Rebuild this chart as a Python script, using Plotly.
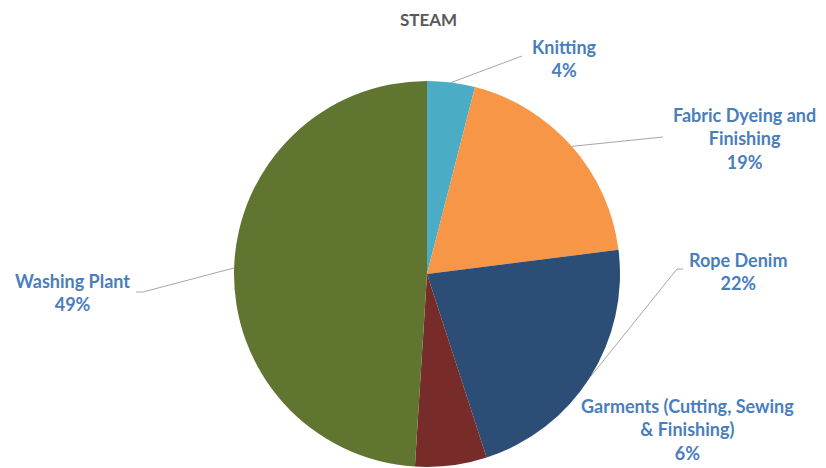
import math
import plotly.graph_objects as go

# ---- data ----
categories = ["Knitting", "Fabric Dyeing and Finishing", "Rope Denim",
              "Garments (Cutting, Sewing & Finishing)", "Washing Plant"]
shares = [4, 19, 22, 6, 49]
label_text = ["Knitting<br>4%", "Fabric Dyeing and<br>Finishing<br>19%", "Rope Denim<br>22%",
              "Garments (Cutting, Sewing<br>& Finishing)<br>6%", "Washing Plant<br>49%"]
colors = ["#4BACC6", "#F79646", "#2C4D75", "#772C2A", "#5F7530"]

W, H = 826, 468
CX, CY, R = 427, 274, 193  # pie center / radius in px (layout)

# label placement (px) and leader-line elbow (px), layout only
label_pos = [(564, 58), (744, 138), (738, 271), (687, 429), (72, 292)]
elbows = [[(522, 56)], [(663, 137)], [(677, 269), (683, 269)], None, [(143, 292), (136, 292)]]

fig = go.Figure(go.Pie(
    labels=categories, values=shares, sort=False, direction="clockwise", rotation=0,
    marker=dict(colors=colors, line=dict(width=0)), textinfo="none",
    domain=dict(x=[(CX - R) / W, (CX + R) / W], y=[1 - (CY + R) / H, 1 - (CY - R) / H]),
    showlegend=False,
))

def px2paper(x, y):
    return x / W, 1 - y / H

total = sum(shares)
cum = 0
shapes = []
annotations = []
for i, v in enumerate(shares):
    mid = (cum + v / 2) / total * 2 * math.pi
    cum += v
    ex, ey = CX + R * math.sin(mid), CY - R * math.cos(mid)
    if elbows[i]:
        pts = [(ex, ey)] + elbows[i]
        path = "M " + " L ".join(f"{px2paper(x, y)[0]},{px2paper(x, y)[1]}" for x, y in pts)
        shapes.append(dict(type="path", xref="paper", yref="paper", path=path,
                           line=dict(color="#A6A6A6", width=1)))
    lx, ly = px2paper(*label_pos[i])
    annotations.append(dict(x=lx, y=ly, xref="paper", yref="paper", text=label_text[i],
                            showarrow=False, xanchor="center", yanchor="middle", align="center",
                            font=dict(family="Lato", size=18, color="#4A7EBB", weight="bold")))

annotations.append(dict(x=428 / W, y=1 - 20 / H, xref="paper", yref="paper", text="<b>STEAM</b>",
                        showarrow=False, xanchor="center", yanchor="middle",
                        font=dict(family="Lato", size=17, color="#595959")))

fig.update_layout(width=W, height=H, margin=dict(l=0, r=0, t=0, b=0),
                  paper_bgcolor="white", plot_bgcolor="white",
                  shapes=shapes, annotations=annotations)
fig.write_html("out.html")
